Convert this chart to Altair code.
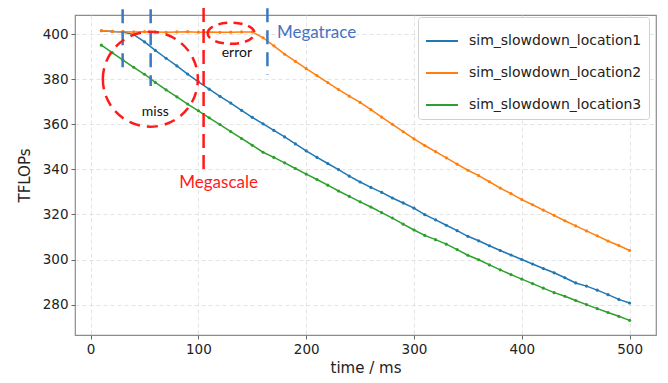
import altair as alt
import pandas as pd

time_ms = list(range(10, 501, 10))

loc1 = [401.5, 401.2, 401.0, 399.8, 396.6, 392.8, 389.3, 385.9, 382.3, 378.8,
        375.6, 372.4, 369.4, 366.2, 363.1, 360.2, 357.3, 354.4, 351.3, 348.2,
        345.3, 342.6, 339.9, 337.0, 334.4, 332.0, 329.8, 327.3, 325.1, 322.8,
        319.9, 317.6, 315.2, 312.8, 310.3, 308.3, 306.1, 304.0, 302.0, 300.0,
        298.0, 296.0, 294.1, 291.9, 289.6, 288.2, 286.4, 284.4, 282.3, 280.7]

loc2 = [401.6, 401.2, 401.1, 401.0, 401.1, 401.0, 400.8, 401.0, 401.1, 400.9,
        401.0, 400.8, 400.9, 401.0, 401.0, 398.4, 394.8, 391.1, 387.9, 384.7,
        381.6, 378.5, 375.4, 372.5, 369.7, 366.5, 363.2, 360.0, 356.7, 353.5,
        350.6, 347.9, 345.1, 342.3, 339.6, 337.2, 334.5, 331.7, 329.2, 326.6,
        324.3, 321.9, 319.6, 317.2, 314.9, 312.7, 310.5, 308.2, 306.2, 304.0]

loc3 = [395.1, 391.8, 388.5, 385.3, 382.2, 378.6, 375.3, 372.2, 369.0, 366.0,
        362.9, 359.9, 356.8, 353.7, 350.7, 347.6, 345.3, 342.9, 340.4, 337.9,
        335.5, 333.0, 330.4, 328.0, 325.6, 323.3, 320.8, 318.4, 315.7, 313.1,
        310.7, 308.8, 306.8, 304.4, 301.9, 299.9, 297.6, 295.4, 293.3, 291.3,
        289.3, 287.3, 285.3, 283.7, 281.8, 280.0, 278.2, 276.5, 274.8, 273.0]

series_names = ["sim_slowdown_location1", "sim_slowdown_location2", "sim_slowdown_location3"]
series_colors = ["#1f77b4", "#ff7f0e", "#2ca02c"]

x_ticks = [0, 100, 200, 300, 400, 500]
y_ticks = [280, 300, 320, 340, 360, 380, 400]

# annotation positions (data coordinates)
trace_x = [29.7, 55.7, 164.0]
trace_y = [411.0, 411.0, 411.5]
trace_y2 = [382.5, 377.0, 382.0]
scale_x = [104.8]
scale_y = [411.6]
scale_y2 = [337.4]

rows = []
for name, vals in zip(series_names, [loc1, loc2, loc3]):
    for t, v in zip(time_ms, vals):
        rows.append({"time": t, "tflops": v, "series": name})
df = pd.DataFrame(rows)

xs = alt.Scale(domain=[-14.5, 524.5], nice=False, zero=False)
ys = alt.Scale(domain=[266.5, 408.5], nice=False, zero=False)

lines = alt.Chart(df).mark_line(
    strokeWidth=1.5,
    point=alt.OverlayMarkDef(size=10, filled=True),
    clip=True,
).encode(
    x=alt.X("time:Q", scale=xs,
            axis=alt.Axis(values=x_ticks, title="time / ms", grid=True)),
    y=alt.Y("tflops:Q", scale=ys,
            axis=alt.Axis(values=y_ticks, title="TFLOPs", grid=True)),
    color=alt.Color("series:N",
                    scale=alt.Scale(domain=series_names, range=series_colors),
                    legend=alt.Legend(title=None, orient="none", legendX=343, legendY=2,
                                      symbolType="stroke", symbolSize=1024,
                                      symbolStrokeWidth=2, labelFontSize=14,
                                      labelFont="DejaVu Sans", labelColor="#222",
                                      fillColor="white", strokeColor="#d0d0d0",
                                      cornerRadius=3, padding=7, rowPadding=8,
                                      labelOffset=10, labelLimit=300)),
)

trace_df = pd.DataFrame({"x": trace_x, "y": trace_y, "y2": trace_y2})
trace_rules = alt.Chart(trace_df).mark_rule(
    color="#3a78c2", strokeWidth=2.5, strokeDash=[14, 8]
).encode(x=alt.X("x:Q", scale=xs), y=alt.Y("y:Q", scale=ys), y2="y2:Q")

scale_df = pd.DataFrame({"x": scale_x, "y": scale_y, "y2": scale_y2})
scale_rule = alt.Chart(scale_df).mark_rule(
    color="#ff1a1a", strokeWidth=2.5, strokeDash=[14, 7]
).encode(x=alt.X("x:Q", scale=xs), y=alt.Y("y:Q", scale=ys), y2="y2:Q")

circle_path = "M-1,0A1,1,0,1,1,1,0A1,1,0,1,1,-1,0Z"
ellipse_path = "M-1,0A1,0.45,0,1,1,1,0A1,0.45,0,1,1,-1,0Z"

miss_df = pd.DataFrame({"x": [55.4], "y": [380.0]})
miss_circle = alt.Chart(miss_df).mark_point(
    shape=circle_path, size=95 * 95, filled=False, stroke="#ff1a1a",
    strokeWidth=2.5, strokeDash=[11, 7], opacity=1
).encode(x=alt.X("x:Q", scale=xs), y=alt.Y("y:Q", scale=ys))

err_df = pd.DataFrame({"x": [130.3], "y": [400.4]})
err_ellipse = alt.Chart(err_df).mark_point(
    shape=ellipse_path, size=47 * 47, filled=False, stroke="#ff1a1a",
    strokeWidth=2.5, strokeDash=[9, 6], opacity=1
).encode(x=alt.X("x:Q", scale=xs), y=alt.Y("y:Q", scale=ys))

label_text = ["miss", "error", "Megatrace", "Megascale"]
label_x = [60.0, 135.7, 172.8, 118.7]
label_y = [365.6, 391.8, 400.6, 334.0]
label_color = ["#111111", "#111111", "#4472c4", "#ff1a1a"]
label_size = [14, 14, 17, 17]
label_align = ["center", "center", "left", "center"]

text_layers = []
for t, x, y, c, s, a in zip(label_text, label_x, label_y, label_color, label_size, label_align):
    d = pd.DataFrame({"x": [x], "y": [y], "t": [t]})
    text_layers.append(
        alt.Chart(d).mark_text(font="Lato", fontSize=s, color=c, align=a, baseline="middle")
        .encode(x=alt.X("x:Q", scale=xs), y=alt.Y("y:Q", scale=ys), text="t:N")
    )

chart = alt.layer(lines, trace_rules, scale_rule, miss_circle, err_ellipse, *text_layers).properties(
    width=581, height=320,
    autosize=alt.AutoSizeParams(type="none"),
    padding={"left": 67, "top": 7, "right": 4, "bottom": 46},
).configure_view(
    stroke="#8c8c8c", strokeWidth=1.2
).configure_axis(
    labelFont="DejaVu Sans", labelFontSize=13.5, labelColor="#222",
    titleFont="DejaVu Sans", titleFontSize=15, titleFontWeight="normal", titleColor="#222",
    tickColor="#666", tickSize=4, labelPadding=3,
    domain=False,
    gridColor="#dcdcdc", gridDash=[4, 3], gridWidth=0.8,
).configure_axisX(titlePadding=5).configure_axisY(titlePadding=10)

chart.save("out.html", embed_options={"renderer": "svg", "actions": False})
